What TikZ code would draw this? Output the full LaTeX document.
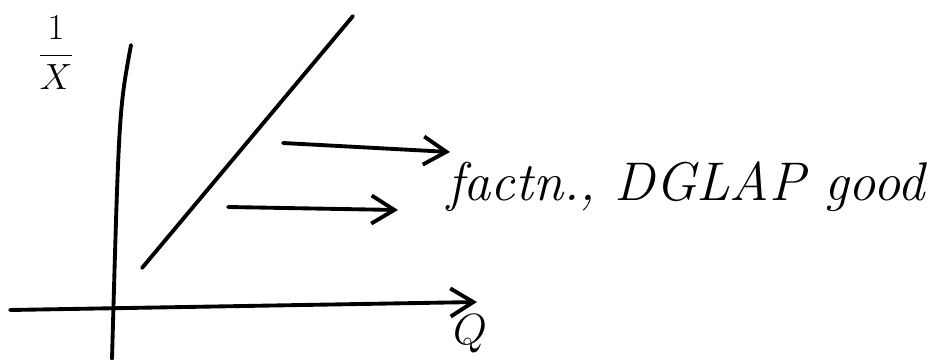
\documentclass[tikz,border=0pt]{standalone}
\usepackage{tikz}
\usetikzlibrary{arrows.meta, positioning}

\begin{document}
\begin{tikzpicture}[x=0.02cm, y=-0.02cm, >={Straight Barb[length=13pt, width=16pt]},
  stroke/.style={line width=2.2pt, line cap=round},
  hand/.style={font=\fontsize{31}{37}\selectfont\itshape, inner sep=0pt, anchor=base west}]
  \useasboundingbox (0,0) rectangle (951,359);
  % axes
  \coordinate (ytop) at (131,45);
  \coordinate (ybot) at (112,359);
  \coordinate (xl) at (10,310);
  \coordinate (xr) at (477,302);
  \draw[stroke] (ytop) .. controls (119,110) .. (ybot);
  \draw[stroke, ->] (xl) -- (xr);
  \node[font=\fontsize{21}{25}\selectfont] (ylab) at (56,53) {$\displaystyle\frac{1}{X}$};
  \node[font=\fontsize{25}{30}\selectfont] (qlab) at (470,334) {$Q$};
  % boundary line
  \coordinate (dlo) at (142,268);
  \coordinate (dhi) at (353,16);
  \draw[stroke] (dlo) -- (dhi);
  % label with arrows
  \node[hand] (lbl) at (447,200) {factn., DGLAP good};
  \coordinate (a1s) at (283,143);
  \coordinate (a1e) at (450,152);
  \coordinate (a2s) at (228,207);
  \coordinate (a2e) at (398,210);
  \draw[stroke, ->] (a1s) -- (a1e);
  \draw[stroke, ->] (a2s) -- (a2e);
\end{tikzpicture}
\end{document}
